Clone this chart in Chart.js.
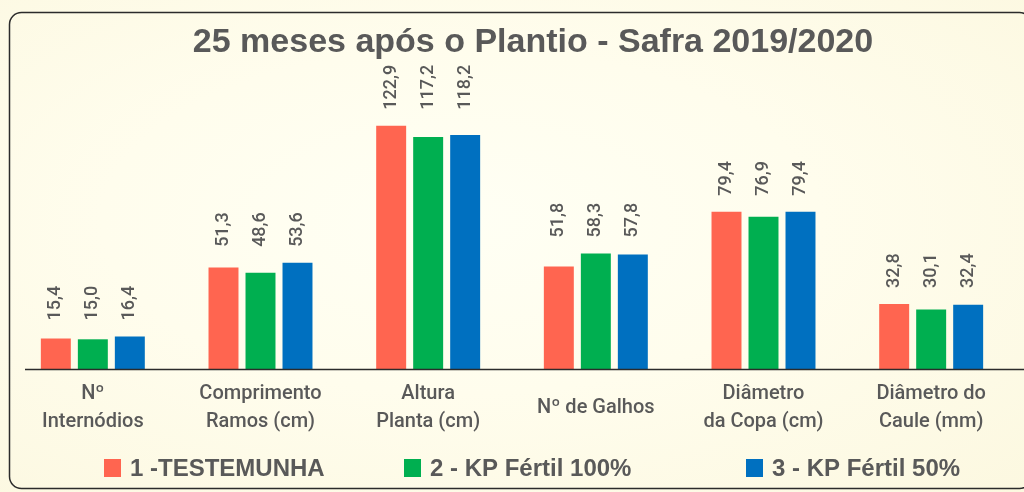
<!DOCTYPE html>
<html>
<head>
<meta charset="utf-8">
<script src="https://cdn.jsdelivr.net/npm/chart.js@4.4.1/dist/chart.umd.min.js"></script>
<style>
  html, body { margin: 0; padding: 0; }
  body {
    width: 1024px; height: 492px; overflow: hidden;
    background: radial-gradient(ellipse at 45% 45%, #fffff4 0%, #fffded 45%, #fcf8e0 100%);
  }
  canvas { display: block; }
</style>
</head>
<body>
<canvas id="c" width="1024" height="492"></canvas>
<script>
const titleText = "25 meses após o Plantio - Safra 2019/2020";
const categories = [
  ["Nº", "Internódios"],
  ["Comprimento", "Ramos (cm)"],
  ["Altura", "Planta (cm)"],
  "Nº de Galhos",
  ["Diâmetro", "da Copa (cm)"],
  ["Diâmetro do", "Caule (mm)"]
];
const seriesNames = ["1 -TESTEMUNHA", "2 - KP Fértil 100%", "3 - KP Fértil 50%"];
const testemunha = [15.4, 51.3, 122.9, 51.8, 79.4, 32.8];
const kpFertil100 = [15.0, 48.6, 117.2, 58.3, 76.9, 30.1];
const kpFertil50 = [16.4, 53.6, 118.2, 57.8, 79.4, 32.4];
const seriesColors = ["#FF6550", "#00AF50", "#0070C0"];

const textColor = "#595959";

const decorPlugin = {
  id: "decor",
  beforeDraw(chart) {
    const ctx = chart.ctx;
    ctx.save();
    ctx.strokeStyle = "#2b2b2b";
    ctx.lineWidth = 1.5;
    ctx.beginPath();
    ctx.roundRect(9.5, 12.5, 1022, 476, 12);
    ctx.stroke();
    ctx.restore();
  },
  afterDraw(chart) {
    const ctx = chart.ctx;
    const area = chart.chartArea;
    ctx.save();
    // axis line
    ctx.strokeStyle = "#2b2b2b";
    ctx.lineWidth = 1.5;
    ctx.beginPath();
    ctx.moveTo(area.left + 16, Math.round(area.bottom) + 0.5);
    ctx.lineTo(chart.width, Math.round(area.bottom) + 0.5);
    ctx.stroke();

    // title
    ctx.fillStyle = textColor;
    ctx.font = "bold 34px 'Liberation Sans', Arial, sans-serif";
    ctx.textAlign = "center";
    ctx.textBaseline = "alphabetic";
    ctx.fillText(titleText, 533, 52);

    // legend
    const legendX = [104, 404, 746];
    ctx.font = "bold 24px 'Liberation Sans', Arial, sans-serif";
    ctx.textAlign = "left";
    ctx.textBaseline = "middle";
    chart.data.datasets.forEach((ds, i) => {
      ctx.fillStyle = ds.backgroundColor;
      ctx.fillRect(legendX[i], 459, 17, 18);
      ctx.fillStyle = textColor;
      ctx.fillText(ds.label, legendX[i] + 26, 469);
    });

    // value labels
    const yScale = chart.scales.y;
    ctx.font = "500 18px Roboto, sans-serif";
    ctx.fillStyle = textColor;
    ctx.textAlign = "left";
    ctx.textBaseline = "middle";
    chart.data.labels.forEach((lab, i) => {
      let mx = 0;
      chart.data.datasets.forEach(ds => { mx = Math.max(mx, ds.data[i]); });
      const yBase = yScale.getPixelForValue(mx) - 16;
      chart.data.datasets.forEach((ds, d) => {
        const el = chart.getDatasetMeta(d).data[i];
        const txt = ds.data[i].toFixed(1).replace(".", ",");
        ctx.save();
        ctx.translate(el.x, yBase);
        ctx.rotate(-Math.PI / 2);
        ctx.fillText(txt, 0, 0);
        ctx.restore();
      });
    });
    ctx.restore();
  }
};

new Chart(document.getElementById("c"), {
  type: "bar",
  data: {
    labels: categories,
    datasets: [
      { label: seriesNames[0], data: testemunha, backgroundColor: seriesColors[0] },
      { label: seriesNames[1], data: kpFertil100, backgroundColor: seriesColors[1] },
      { label: seriesNames[2], data: kpFertil50, backgroundColor: seriesColors[2] }
    ]
  },
  options: {
    responsive: false,
    animation: false,
    devicePixelRatio: 1,
    categoryPercentage: 0.662,
    barPercentage: 0.81,
    layout: { padding: { left: 9, right: 9, top: 72, bottom: 17 } },
    plugins: {
      legend: { display: false },
      title: { display: false },
      tooltip: { enabled: false }
    },
    scales: {
      x: {
        grid: { display: false, drawTicks: false },
        border: { display: false },
        ticks: {
          color: textColor,
          font: { family: "Roboto, sans-serif", size: 20, weight: 500, lineHeight: 1.4 },
          crossAlign: "center",
          maxRotation: 0,
          autoSkip: false,
          padding: 25
        }
      },
      y: {
        display: false,
        min: 0,
        max: 150
      }
    }
  },
  plugins: [decorPlugin]
});
</script>
</body>
</html>
